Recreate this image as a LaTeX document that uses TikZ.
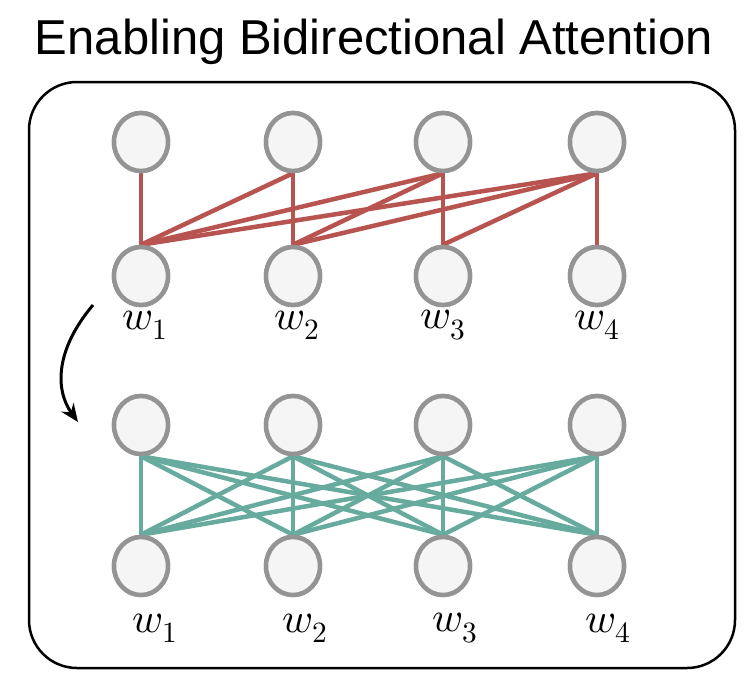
\documentclass[tikz,border=0pt]{standalone}
\usepackage{fontspec}
\setmainfont{Liberation Sans}
\usepackage{unicode-math}
\setmathfont{Latin Modern Math}
\begin{document}
\begin{tikzpicture}[x=1pt,y=-1pt,
  tok/.style={ellipse,draw=black!42,line width=4.5pt,fill=black!4,minimum width=54pt,minimum height=58pt,inner sep=0pt},
  red/.style={draw={rgb,255:red,184;green,84;blue,80},line width=4.5pt},
  teal/.style={draw={rgb,255:red,103;green,171;blue,159},line width=4.5pt},
  lab/.style={font=\fontsize{42}{44}\selectfont}]
\usetikzlibrary{shapes.geometric,arrows.meta}
\useasboundingbox (0,0) rectangle (754,680);
\node[font=\fontsize{49}{52}\selectfont] (title) at (374,42) {Enabling Bidirectional Attention};
\draw[line width=2.5pt,rounded corners=48pt] (29,82) rectangle (735,668);
\foreach \i/\x in {1/141,2/293,3/443,4/597}{
  \node[tok] (a\i) at (\x,142) {};
  \node[tok] (b\i) at (\x,276) {};
  \node[tok] (c\i) at (\x,425) {};
  \node[tok] (d\i) at (\x,566) {};
}
\foreach \j in {1,...,4}{\foreach \i in {1,...,\j}{\draw[red] (a\j.south) -- (b\i.north);}}
\foreach \j in {1,...,4}{\foreach \i in {1,...,4}{\draw[teal] (c\j.south) -- (d\i.north);}}
\foreach \i in {1,...,4}{
  \node[tok] at (a\i) {}; \node[tok] at (b\i) {}; \node[tok] at (c\i) {}; \node[tok] at (d\i) {};}
\node[lab] (l1) at (145,325) {$w_1$};
\node[lab] (l2) at (297,325) {$w_2$};
\node[lab] (l3) at (443,325) {$w_3$};
\node[lab] (l4) at (597,325) {$w_4$};
\node[lab] (m1) at (155,628) {$w_1$};
\node[lab] (m2) at (305,628) {$w_2$};
\node[lab] (m3) at (455,628) {$w_3$};
\node[lab] (m4) at (608,628) {$w_4$};
\coordinate (s) at (93,305);
\coordinate (e) at (78,422);
\draw[line width=3pt,-{Stealth[length=18pt,width=15pt]}] (s) .. controls (55,350) and (55,390) .. (e);
\end{tikzpicture}
\end{document}
